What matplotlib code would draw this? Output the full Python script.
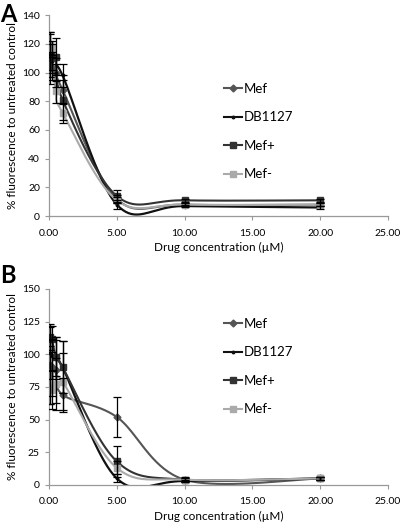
import numpy as np
import matplotlib.pyplot as plt
from matplotlib.lines import Line2D

plt.rcParams['font.family'] = ['Lato', 'DejaVu Sans']

#%% data
conc = [0.05, 0.2, 0.5, 1.0, 5.0, 10.0, 20.0]
series = ['Mef', 'DB1127', 'Mef+', 'Mef-']

# panel A
a_mef = [105, 103, 100, 88, 12, 8, 8]
a_mef_err = [8, 8, 6, 10, 3, 1, 1]
a_db = [110, 108, 100, 98, 8, 7, 6]
a_db_err = [18, 6, 10, 8, 3, 1, 1]
a_mefp = [112, 110, 111, 81, 14, 11, 11]
a_mefp_err = [15, 10, 13, 14, 4, 1, 1]
a_mefm = [120, 117, 87, 72, 11, 8, 8]
a_mefm_err = [8, 5, 8, 7, 2, 1, 1]

# panel B
b_mef = [92, 90, 88, 69, 52, 4, 5]
b_mef_err = [30, 22, 25, 13, 15, 2, 1]
b_db = [101, 99, 96, 90, 5, 3, 5]
b_db_err = [20, 12, 15, 20, 3, 1, 1]
b_mefp = [113, 112, 98, 90, 18, 4, 5]
b_mefp_err = [10, 10, 15, 20, 12, 1, 1]
b_mefm = [84, 73, 77, 79, 13, 4, 5]
b_mefm_err = [22, 15, 20, 22, 5, 1, 1]

colors = {'Mef': '#555555', 'DB1127': '#111111', 'Mef+': '#333333', 'Mef-': '#aaaaaa'}
markers = {'Mef': ('D', 3.5), 'DB1127': ('o', 1.8), 'Mef+': ('s', 4.5), 'Mef-': ('s', 4.5)}


def excel_smooth(x, y, n=40):
    # Bezier smoothing close to Excel's "smoothed line"
    p = np.column_stack([x, y]).astype(float)
    pts = [p[0]] + list(p) + [p[-1]]
    out = []
    for i in range(1, len(pts) - 2):
        p0, p1, p2, p3 = pts[i - 1], pts[i], pts[i + 1], pts[i + 2]
        c1 = p1 + (p2 - p0) / 6
        c2 = p2 - (p3 - p1) / 6
        t = np.linspace(0, 1, n)[:, None]
        seg = (1 - t) ** 3 * p1 + 3 * (1 - t) ** 2 * t * c1 + 3 * (1 - t) * t ** 2 * c2 + t ** 3 * p2
        out.append(seg)
    out = np.vstack(out)
    return out[:, 0], out[:, 1]


def panel(ax, data, ymax, ystep, legend_y):
    for name, (vals, errs) in zip(series, data):
        c = colors[name]
        sx, sy = excel_smooth(conc, vals)
        lw = 1.6 if name == 'DB1127' else 1.5
        ax.plot(sx, sy, color=c, lw=lw, zorder=2)
        m, ms = markers[name]
        ax.plot(conc, vals, ls='none', marker=m, ms=ms, color=c, zorder=3)
        ax.errorbar(conc, vals, yerr=errs, fmt='none', ecolor='black',
                    elinewidth=0.9, capsize=2.8, capthick=0.9, zorder=4)
    ax.set_xlim(0, 25)
    ax.set_ylim(0, ymax)
    ax.set_xticks(np.arange(0, 26, 5))
    ax.set_xticklabels(['%.2f' % v for v in np.arange(0, 26, 5)])
    ax.set_yticks(np.arange(0, ymax + 1, ystep))
    for s in ['top', 'right']:
        ax.spines[s].set_visible(False)
    for s in ['left', 'bottom']:
        ax.spines[s].set_color('#999999')
        ax.spines[s].set_linewidth(0.9)
    ax.tick_params(axis='both', colors='#999999', labelcolor='black', labelsize=7.5,
                   length=3, width=0.8)
    ax.tick_params(axis='x', pad=6)
    ax.set_xlabel('Drug concentration (\u00b5M)', fontsize=8.5, labelpad=3)
    ax.set_ylabel('% fluorescence to untreated control', fontsize=8.5, labelpad=3)
    handles = []
    for name in series:
        m, ms = markers[name]
        handles.append(Line2D([0], [0], color=colors[name], lw=1.5, marker=m, ms=ms))
    ax.legend(handles, series, loc='upper left', bbox_to_anchor=(0.5, legend_y),
              frameon=False, fontsize=9.5, handlelength=1.4, handletextpad=0.1,
              labelspacing=1.25, borderaxespad=0)


fig = plt.figure(figsize=(4.0, 5.22), dpi=100)
ax1 = fig.add_axes([0.1225, 0.586, 0.8475, 0.385])
ax2 = fig.add_axes([0.1225, 0.071, 0.8475, 0.3755])

panel(ax1, [(a_mef, a_mef_err), (a_db, a_db_err), (a_mefp, a_mefp_err), (a_mefm, a_mefm_err)],
      140, 20, 0.69)
panel(ax2, [(b_mef, b_mef_err), (b_db, b_db_err), (b_mefp, b_mefp_err), (b_mefm, b_mefm_err)],
      150, 25, 0.88)

fig.text(0.0, 0.995, 'A', fontsize=17, fontweight='bold', va='top', ha='left')
fig.text(0.0, 0.495, 'B', fontsize=17, fontweight='bold', va='top', ha='left')

fig.savefig('out.png', dpi=100)
